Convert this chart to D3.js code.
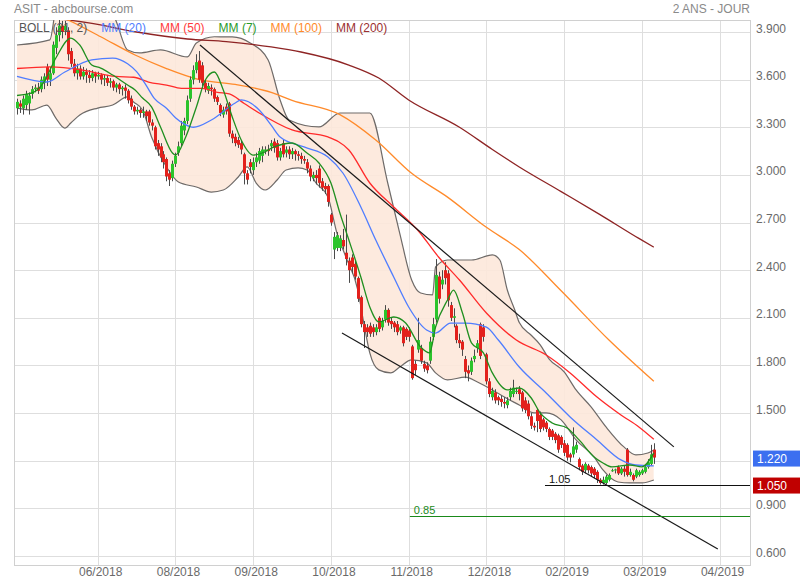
<!DOCTYPE html>
<html><head><meta charset="utf-8">
<script src="https://cdn.jsdelivr.net/npm/d3@7"></script>
<style>body{margin:0;background:#fff}svg{display:block;font-family:"Liberation Sans",Arial,sans-serif}</style>
</head><body><svg id="c" width="800" height="580"></svg>
<script>
// ---------- DATA ----------
const openP = [3.42,3.45,3.42,3.44,3.45,3.51,3.54,3.55,3.54,3.58,3.68,3.60,3.64,3.80,3.88,3.94,3.91,3.91,3.78,3.70,
3.64,3.67,3.62,3.65,3.63,3.61,3.64,3.62,3.63,3.60,3.61,3.58,3.59,3.55,3.57,3.54,3.55,3.53,3.48,3.43,
3.40,3.41,3.39,3.40,3.40,3.33,3.30,3.20,3.18,3.13,3.10,3.01,2.98,3.07,3.14,3.20,3.28,3.34,3.48,3.60,
3.66,3.72,3.69,3.58,3.53,3.55,3.54,3.49,3.44,3.38,3.43,3.45,3.26,3.24,3.22,3.20,3.13,3.01,3.08,3.03,
3.08,3.09,3.12,3.15,3.16,3.18,3.21,3.20,3.11,3.20,3.14,3.16,3.13,3.15,3.13,3.12,3.10,3.08,3.04,2.98,
3.00,3.04,2.96,2.93,2.93,2.75,2.53,2.54,2.54,2.59,2.51,2.46,2.48,2.44,2.35,2.23,2.06,2.04,2.05,2.04,
2.01,2.10,2.04,2.09,2.15,2.08,2.07,2.06,2.02,2.04,2.03,2.02,1.92,1.81,1.90,1.91,1.81,1.80,1.83,1.98,
2.09,2.36,2.31,2.40,2.38,2.18,2.10,2.05,1.96,1.95,1.84,1.77,1.76,1.84,1.91,2.06,2.04,1.87,1.70,1.60,
1.63,1.60,1.59,1.57,1.55,1.60,1.62,1.64,1.65,1.63,1.58,1.56,1.48,1.42,1.52,1.49,1.46,1.44,1.40,1.39,
1.37,1.36,1.35,1.31,1.30,1.24,1.24,1.27,1.21,1.17,1.14,1.17,1.16,1.15,1.13,1.08,1.06,1.06,1.08,1.14,
1.14,1.16,1.12,1.15,1.27,1.11,1.11,1.10,1.11,1.12,1.13,1.16,1.18,1.27];
const highP = [3.48,3.47,3.50,3.53,3.52,3.56,3.57,3.58,3.62,3.64,3.70,3.68,3.84,3.93,3.98,3.97,3.97,3.93,3.80,3.73,
3.70,3.69,3.68,3.67,3.66,3.66,3.65,3.65,3.64,3.63,3.63,3.61,3.60,3.58,3.58,3.56,3.57,3.54,3.50,3.44,
3.43,3.42,3.43,3.41,3.41,3.35,3.31,3.22,3.20,3.15,3.11,3.03,3.09,3.14,3.21,3.34,3.36,3.50,3.62,3.69,
3.76,3.78,3.71,3.60,3.58,3.57,3.55,3.50,3.45,3.43,3.45,3.46,3.28,3.26,3.24,3.22,3.14,3.03,3.10,3.11,
3.14,3.17,3.18,3.18,3.19,3.22,3.23,3.22,3.17,3.22,3.18,3.18,3.17,3.16,3.15,3.14,3.12,3.10,3.06,3.02,
3.03,3.06,2.98,2.95,2.94,2.76,2.64,2.64,2.62,2.66,2.75,2.48,2.50,2.46,2.36,2.24,2.08,2.06,2.07,2.06,
2.06,2.11,2.10,2.18,2.16,2.10,2.08,2.08,2.05,2.05,2.04,2.04,1.93,1.83,2.10,1.93,1.83,1.82,1.98,2.10,
2.47,2.39,2.40,2.45,2.40,2.20,2.16,2.06,2.00,1.96,1.86,1.80,1.85,1.90,1.96,2.07,2.06,1.88,1.72,1.66,
1.65,1.61,1.61,1.60,1.60,1.66,1.71,1.66,1.67,1.64,1.60,1.58,1.50,1.44,1.53,1.51,1.47,1.45,1.41,1.40,
1.38,1.37,1.36,1.33,1.31,1.25,1.41,1.32,1.22,1.18,1.19,1.18,1.17,1.16,1.14,1.09,1.10,1.11,1.12,1.15,
1.15,1.17,1.16,1.17,1.28,1.15,1.12,1.15,1.14,1.15,1.17,1.21,1.30,1.31];
const lowP = [3.38,3.39,3.38,3.41,3.38,3.48,3.52,3.51,3.52,3.54,3.56,3.56,3.63,3.76,3.84,3.86,3.88,3.72,3.68,3.62,
3.60,3.60,3.60,3.58,3.58,3.59,3.58,3.60,3.57,3.56,3.56,3.55,3.53,3.52,3.51,3.50,3.48,3.45,3.41,3.38,
3.38,3.36,3.36,3.34,3.31,3.28,3.16,3.12,3.08,3.04,2.96,2.93,2.96,3.05,3.12,3.18,3.25,3.32,3.46,3.57,
3.64,3.58,3.56,3.52,3.51,3.50,3.46,3.44,3.37,3.36,3.38,3.24,3.20,3.18,3.17,3.13,2.94,2.94,3.01,3.00,
3.05,3.07,3.08,3.13,3.12,3.15,3.14,3.09,3.09,3.11,3.11,3.10,3.10,3.09,3.09,3.07,3.07,3.01,2.96,2.96,
2.94,2.92,2.90,2.88,2.80,2.68,2.47,2.52,2.52,2.53,2.43,2.32,2.38,2.34,2.20,2.04,1.91,1.98,1.98,1.98,
1.99,2.01,2.02,2.07,2.05,2.03,2.01,1.99,2.00,1.92,1.96,1.95,1.71,1.74,1.88,1.81,1.76,1.75,1.81,1.96,
2.07,2.19,2.28,2.31,2.17,2.08,2.04,1.94,1.91,1.86,1.72,1.70,1.74,1.82,1.88,1.84,1.95,1.68,1.60,1.58,
1.56,1.55,1.54,1.53,1.53,1.58,1.60,1.62,1.58,1.51,1.50,1.46,1.40,1.39,1.38,1.38,1.39,1.38,1.33,1.33,
1.31,1.25,1.28,1.23,1.20,1.19,1.22,1.25,1.14,1.11,1.12,1.12,1.10,1.09,1.06,1.05,1.05,1.05,1.07,1.13,
1.12,1.11,1.11,1.10,1.10,1.10,1.07,1.09,1.10,1.11,1.12,1.15,1.17,1.18];
const closeP = [3.46,3.43,3.48,3.51,3.50,3.54,3.55,3.53,3.60,3.62,3.60,3.64,3.82,3.88,3.94,3.90,3.94,3.76,3.70,3.64,
3.67,3.62,3.65,3.63,3.61,3.64,3.62,3.63,3.60,3.61,3.58,3.59,3.55,3.57,3.54,3.55,3.53,3.47,3.43,3.40,
3.41,3.39,3.40,3.37,3.33,3.31,3.18,3.16,3.11,3.08,2.99,2.97,3.07,3.12,3.18,3.31,3.34,3.47,3.60,3.66,
3.71,3.60,3.58,3.54,3.56,3.54,3.48,3.46,3.39,3.41,3.40,3.26,3.23,3.20,3.19,3.16,3.01,2.97,3.05,3.08,
3.11,3.15,3.16,3.16,3.15,3.20,3.17,3.11,3.15,3.13,3.16,3.13,3.15,3.13,3.12,3.10,3.09,3.04,2.99,3.00,
2.98,2.95,2.92,2.91,2.83,2.70,2.61,2.62,2.60,2.55,2.47,2.40,2.42,2.36,2.22,2.06,2.01,2.01,2.00,2.01,
2.04,2.03,2.08,2.15,2.07,2.06,2.04,2.01,2.04,1.94,1.98,1.98,1.72,1.77,1.96,1.83,1.78,1.77,1.95,2.06,
2.37,2.22,2.34,2.35,2.21,2.10,2.11,1.96,1.94,1.90,1.76,1.75,1.83,1.86,1.94,1.86,1.98,1.70,1.62,1.64,
1.58,1.58,1.57,1.56,1.58,1.64,1.66,1.64,1.62,1.53,1.52,1.48,1.42,1.41,1.45,1.40,1.41,1.40,1.35,1.35,
1.33,1.27,1.30,1.25,1.22,1.22,1.29,1.30,1.16,1.13,1.18,1.14,1.12,1.11,1.08,1.06,1.08,1.10,1.11,1.14,
1.145,1.12,1.15,1.13,1.11,1.13,1.08,1.14,1.13,1.14,1.16,1.19,1.24,1.22];

// moving averages & bands: [bar index, value]
const mm7 = [[0,3.50],[5,3.516],[9,3.585],[13,3.736],[18,3.862],[21,3.818],[25,3.692],[28,3.673],[32,3.629],[37,3.566],[39.5,3.535],[42,3.484],[45,3.428],[48,3.302],[52,3.138],[53,3.125],[56,3.220],[60,3.428],[63,3.598],[66,3.648],[69,3.535],[72,3.365],[75,3.220],[79,3.125],[82,3.138],[86,3.176],[92,3.201],[97,3.138],[101,3.075],[105,2.949],[108,2.760],[111,2.590],[115,2.357],[118,2.168],[121,2.074],[126,2.105],[130,2.067],[135,1.916],[138,1.879],[140,2.042],[144,2.212],[146,2.275],[149,2.130],[152,1.942],[156,1.879],[159,1.753],[164,1.646],[168,1.658],[172,1.595],[175,1.501],[179,1.438],[184,1.406],[188,1.331],[193,1.224],[196,1.186],[199,1.161],[205,1.173],[209,1.161],[213,1.249]];
const mm20 = [[0,3.62],[10,3.585],[16,3.648],[25,3.724],[32,3.736],[37,3.70],[40,3.65],[43,3.57],[46,3.48],[50,3.42],[53,3.36],[56,3.32],[59,3.30],[65,3.346],[73,3.453],[75,3.472],[81,3.409],[85,3.314],[88,3.239],[96,3.176],[104,3.113],[109,3.012],[115,2.798],[120,2.590],[126,2.357],[131,2.168],[137,2.023],[140,2.004],[145,2.067],[150,2.067],[157,2.042],[161,1.960],[168,1.790],[177,1.627],[185,1.476],[194,1.331],[202,1.205],[207,1.173],[213,1.167]];
const mm50 = [[0,3.67],[11,3.68],[22,3.66],[33,3.62],[39,3.615],[44,3.585],[50,3.566],[55,3.545],[62,3.545],[67,3.52],[71,3.51],[76,3.45],[81,3.39],[92,3.283],[104,3.239],[111,3.157],[118,2.949],[126,2.798],[134,2.653],[141,2.483],[148,2.338],[157,2.130],[167,1.960],[177,1.866],[185,1.753],[194,1.601],[202,1.488],[208,1.413],[213,1.335]];
const mm100 = [[10,4.03],[17,3.976],[28,3.87],[39.5,3.755],[50,3.67],[61,3.60],[73,3.57],[85,3.52],[92,3.47],[108,3.38],[120,3.22],[132,3.01],[144,2.86],[157,2.67],[168,2.53],[182,2.27],[198,1.96],[213,1.70]];
const mm200 = [[5,4.00],[17,3.976],[24,3.957],[40,3.90],[57,3.856],[70,3.84],[85,3.806],[95,3.774],[111,3.692],[121,3.61],[131,3.472],[148,3.30],[159,3.16],[168,3.05],[182,2.895],[195,2.75],[208,2.60],[213,2.545]];
const bollUp = [[0,3.818],[11,3.85],[13,4.04],[18,4.15],[28,4.15],[33,3.976],[37,3.787],[41,3.768],[48,3.787],[57,3.743],[60,3.831],[66,3.87],[72,3.869],[78,3.831],[84,3.724],[88,3.472],[91,3.346],[101,3.302],[108,3.390],[118,3.390],[124,2.949],[128,2.634],[132,2.338],[135,2.256],[139,2.244],[140,2.420],[144,2.464],[152,2.464],[159,2.496],[161.5,2.464],[164,2.275],[166.5,2.149],[168,2.07],[172,1.99],[175,1.93],[178,1.84],[183,1.76],[187,1.646],[192,1.539],[197,1.413],[203,1.287],[207,1.237],[211,1.249],[213,1.268]];
const bollLow = [[0,3.421],[5,3.409],[10,3.440],[13,3.358],[16,3.295],[18,3.327],[21,3.377],[27,3.421],[32,3.440],[37,3.491],[39,3.459],[42,3.409],[45,3.239],[50,3.050],[54,2.955],[60,2.924],[65,2.892],[69,2.905],[74,2.987],[77,3.050],[80,2.949],[83,2.905],[87,2.968],[90,3.031],[94,3.044],[97,3.031],[100,2.949],[104,2.861],[107,2.634],[110,2.483],[114,2.275],[116,2.067],[118,1.879],[121,1.772],[125,1.753],[128,1.790],[132,1.835],[137,1.816],[140,1.753],[144,1.709],[150,1.727],[154,1.696],[159,1.646],[163,1.601],[168,1.551],[173,1.501],[177,1.501],[182,1.457],[187,1.331],[193,1.224],[196,1.142],[201,1.066],[205,1.060],[209,1.060],[213,1.079]];

const yTicks = [0.6,0.9,1.2,1.5,1.8,2.1,2.4,2.7,3.0,3.3,3.6,3.9];
const xTickIdx = [27,53,79,105,131,157,183,209,235];
const xTickLabels = ["06/2018","08/2018","09/2018","10/2018","11/2018","12/2018","02/2019","03/2019","04/2019"];
const trendUpper = [[61.2,3.818],[219.7,1.287]];
const trendLower = [[108.7,2.005],[234.4,0.644]];
const hLines = [{v:1.05, from:176.6, label:"1.05", color:"#111"},{v:0.85, from:131.4, label:"0.85", color:"#1a8a1a"}];
const priceTags = [{v:1.22, label:"1.220", color:"#3c6ff0"},{v:1.05, label:"1.050", color:"#c00000"}];
const legend = [{t:"BOLL (21, 2)",c:"#555555"},{t:"MM (20)",c:"#4f7dff"},{t:"MM (50)",c:"#ff3b3b"},{t:"MM (7)",c:"#2a9a2a"},{t:"MM (100)",c:"#ff8a2a"},{t:"MM (200)",c:"#9b3030"}];

// ---------- LAYOUT ----------
const L=14, R=750, T=20, B=565;
const svg = d3.select("#c");
const x = d3.scaleLinear().domain([0,244.5]).range([17,748]);
const y = d3.scaleLinear().domain([0.6,3.9]).range([556,32]);

const defs = svg.append("defs");
defs.append("clipPath").attr("id","plot").append("rect")
  .attr("x",L).attr("y",T).attr("width",R-L).attr("height",B-T);

const grid = svg.append("g");
grid.selectAll(".hg").data(yTicks).join("line")
  .attr("x1",L).attr("x2",R).attr("y1",d=>Math.round(y(d))+0.5).attr("y2",d=>Math.round(y(d))+0.5)
  .attr("stroke","#dedede").attr("stroke-width",1);
grid.selectAll(".vg").data(xTickIdx).join("line")
  .attr("x1",d=>Math.round(x(d))+0.5).attr("x2",d=>Math.round(x(d))+0.5).attr("y1",T).attr("y2",B)
  .attr("stroke","#dedede").attr("stroke-width",1);
svg.append("rect").attr("x",L+0.5).attr("y",T+0.5).attr("width",R-L).attr("height",B-T)
  .attr("fill","none").attr("stroke","#d0d0d0");

const plot = svg.append("g").attr("clip-path","url(#plot)");

defs.append("clipPath").attr("id","abovelow").append("path")
  .attr("d", d3.area().x(d=>x(d[0])).y0(T-50).y1(d=>y(d[1])).curve(d3.curveMonotoneX)(bollLow));
plot.append("g").attr("clip-path","url(#abovelow)").append("path")
  .attr("d", d3.area().x(d=>x(d[0])).y0(d=>y(d[1])).y1(B+50).curve(d3.curveMonotoneX)(bollUp))
  .attr("fill","#fde8da").attr("opacity",0.9);

const line = d3.line().x(d=>x(d[0])).y(d=>y(d[1])).curve(d3.curveMonotoneX);
[bollUp,bollLow].forEach(b=>plot.append("path").attr("d",line(b)).attr("fill","none").attr("stroke","#6e6a68").attr("stroke-width",1.2));

plot.append("path").attr("d",line(mm200)).attr("fill","none").attr("stroke","#8e2424").attr("stroke-width",1.3);
plot.append("path").attr("d",line(mm100)).attr("fill","none").attr("stroke","#ff8a2a").attr("stroke-width",1.3);

const idx = d3.range(closeP.length);
const cg = plot.append("g");
cg.selectAll(".w").data(idx).join("line")
  .attr("x1",i=>Math.round(x(i))+0.5).attr("x2",i=>Math.round(x(i))+0.5)
  .attr("y1",i=>y(highP[i])).attr("y2",i=>y(lowP[i]))
  .attr("stroke","#4a4a4a").attr("stroke-width",1);
cg.selectAll(".b").data(idx).join("rect")
  .attr("x",i=>Math.round(x(i))-1).attr("width",3)
  .attr("y",i=>y(Math.max(openP[i],closeP[i])))
  .attr("height",i=>Math.max(1,Math.abs(y(openP[i])-y(closeP[i]))))
  .attr("fill",i=>closeP[i]>=openP[i]?"#2bc42b":"#e3211c");

plot.append("path").attr("d",line(mm50)).attr("fill","none").attr("stroke","#ff2a2a").attr("stroke-width",1.3);
plot.append("path").attr("d",line(mm20)).attr("fill","none").attr("stroke","#4f7dff").attr("stroke-width",1.3);
plot.append("path").attr("d",line(mm7)).attr("fill","none").attr("stroke","#1f8f1f").attr("stroke-width",1.3);

[trendUpper,trendLower].forEach(t=>plot.append("line")
  .attr("x1",x(t[0][0])).attr("y1",y(t[0][1])).attr("x2",x(t[1][0])).attr("y2",y(t[1][1]))
  .attr("stroke","#1a1a1a").attr("stroke-width",1.2));

hLines.forEach(h=>{
  const yy = Math.round(y(h.v))+0.5;
  plot.append("line").attr("x1",x(h.from)).attr("x2",R).attr("y1",yy).attr("y2",yy).attr("stroke",h.color).attr("stroke-width",1.2);
  plot.append("text").attr("x",x(h.from)+4).attr("y",yy-3).text(h.label)
    .attr("fill",h.color).attr("font-size",11);
});

let lx = 19;
legend.forEach(l=>{
  const t = svg.append("text").attr("x",lx).attr("y",32).text(l.t).attr("fill",l.c).attr("font-size",12);
  lx += t.node().getComputedTextLength()+14;
});

svg.append("text").attr("x",14).attr("y",13).text("ASIT - abcbourse.com").attr("fill","#8a8a8a").attr("font-size",12);
svg.append("text").attr("x",R).attr("y",13).attr("text-anchor","end").text("2 ANS - JOUR").attr("fill","#8a8a8a").attr("font-size",12);

const fmt = d3.format(".3f");
const shownTicks = yTicks.filter(v=>priceTags.every(p=>Math.abs(y(v)-y(p.v))>14));
svg.selectAll(".yl").data(shownTicks).join("text")
  .attr("x",756).attr("y",d=>y(d)+0.5).text(d=>fmt(d))
  .attr("fill","#6a6a6a").attr("font-size",12);
svg.selectAll(".xl").data(xTickIdx).join("text")
  .attr("x",d=>x(d)+3).attr("y",576).attr("text-anchor","middle").text((d,i)=>xTickLabels[i])
  .attr("fill","#6a6a6a").attr("font-size",12);

priceTags.forEach(p=>{
  const yy = y(p.v);
  svg.append("rect").attr("x",753).attr("y",yy-7).attr("width",47).attr("height",16).attr("fill",p.color);
  svg.append("text").attr("x",757).attr("y",yy+5.5).text(p.label).attr("fill","#fff").attr("font-size",12);
});
</script></body></html>
